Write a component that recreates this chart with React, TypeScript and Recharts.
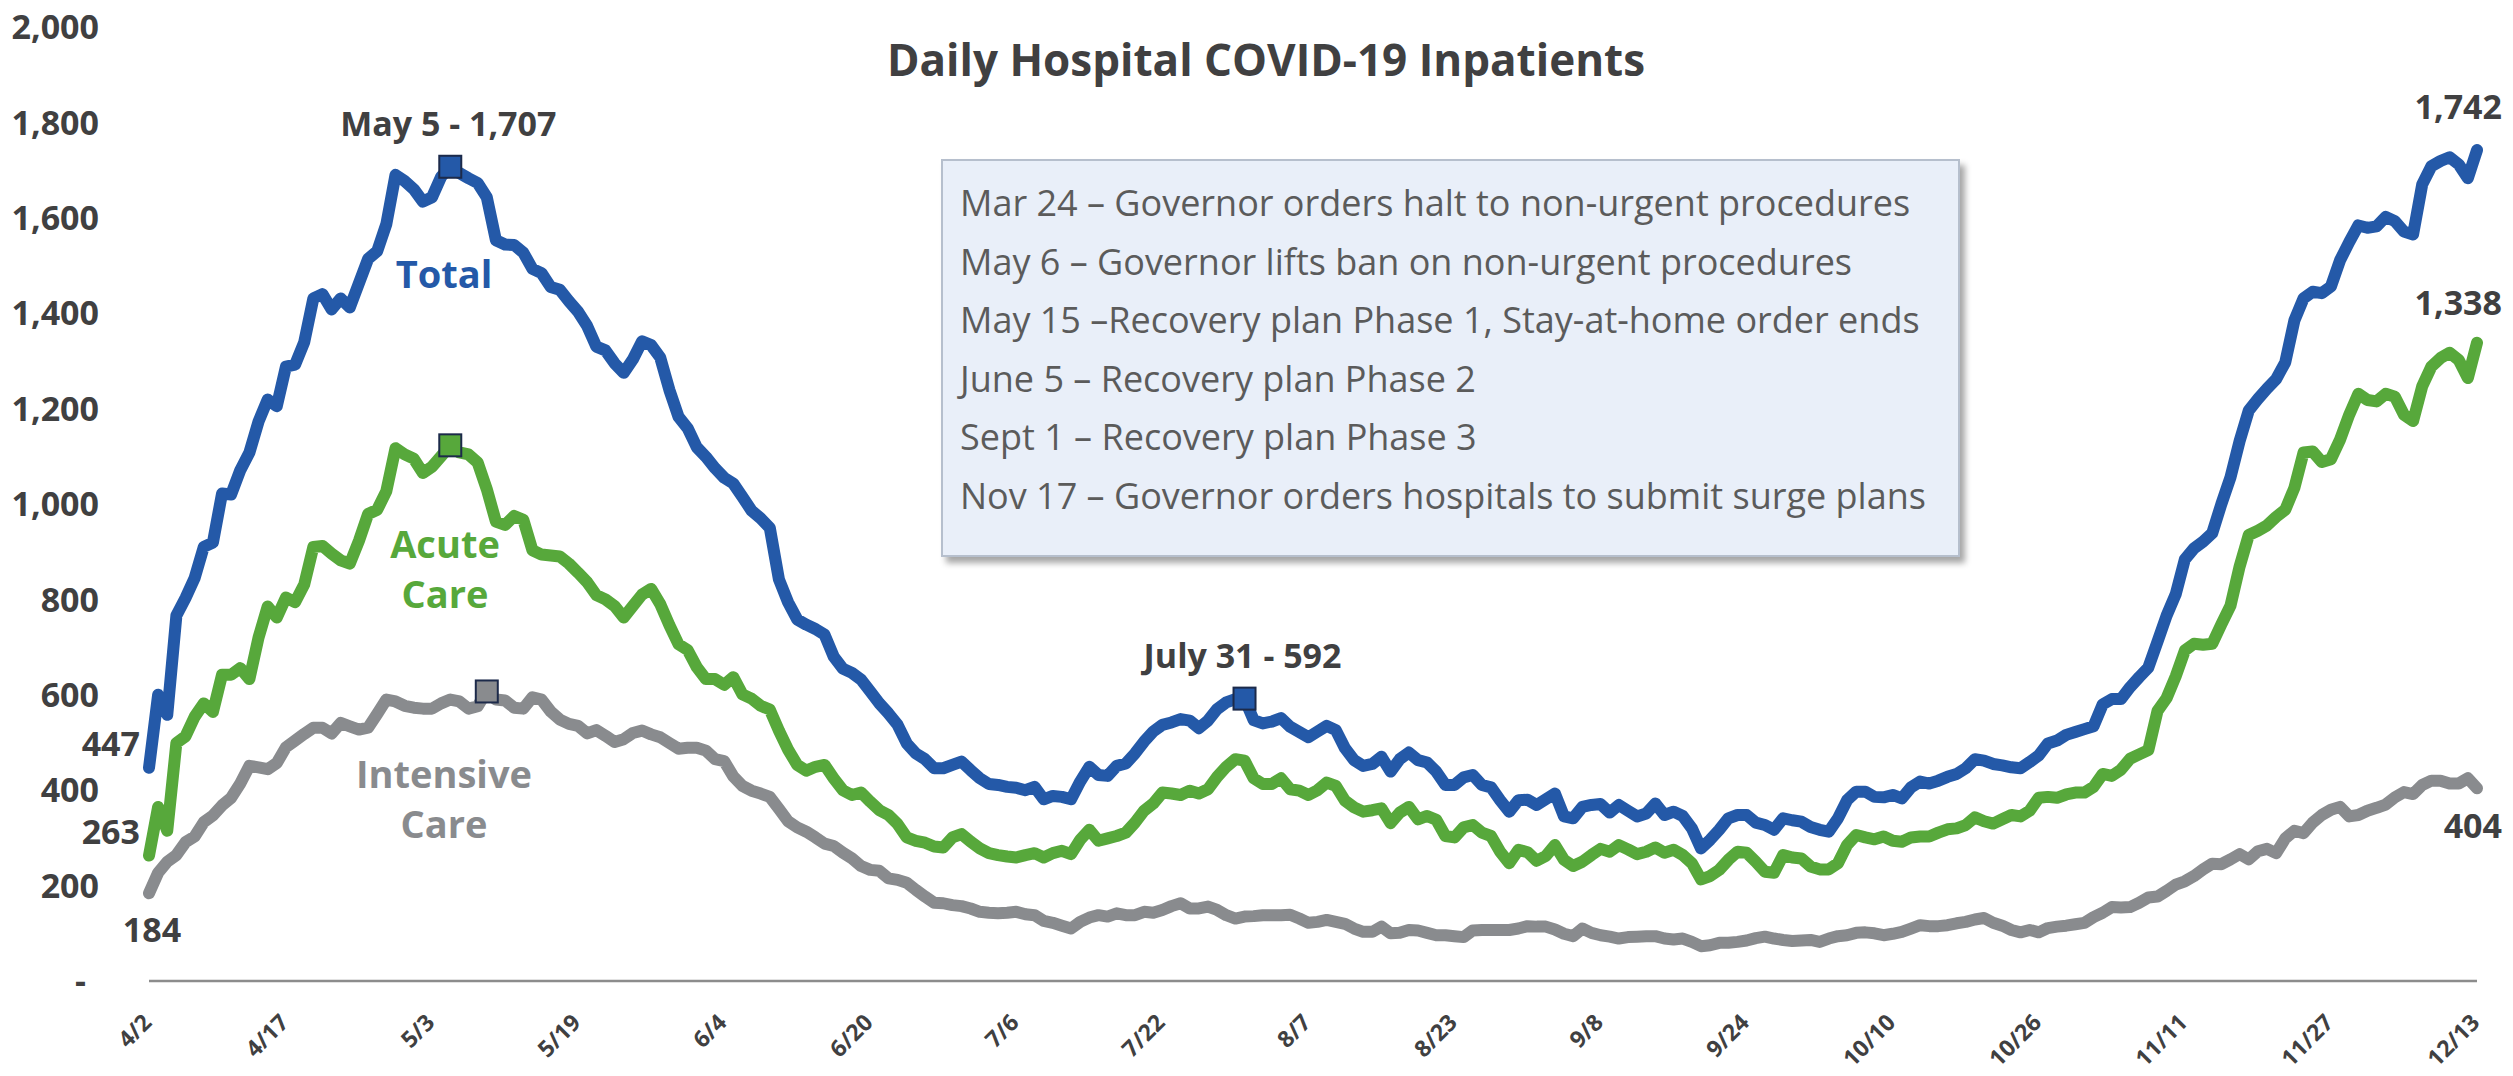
import React from 'react';
import { LineChart, Line, XAxis, YAxis } from 'recharts';

const W = 2513;
const H = 1076;

// ---------- data ----------
const startDate = { year: 2020, month: 4, day: 2 };
const dayCount = 256;

const tickDates = ['4/2', '4/17', '5/3', '5/19', '6/4', '6/20', '7/6', '7/22', '8/7', '8/23', '9/8', '9/24', '10/10', '10/26', '11/11', '11/27', '12/13'];
const yTicks = [0, 200, 400, 600, 800, 1000, 1200, 1400, 1600, 1800, 2000];

const total = [
  447, 600, 558, 766, 803, 845, 910, 919, 1022, 1020,
  1071, 1108, 1173, 1219, 1205, 1288, 1292, 1339, 1431, 1440,
  1408, 1431, 1412, 1463, 1514, 1530, 1587, 1690, 1677, 1660,
  1634, 1643, 1686, 1707, 1694, 1683, 1673, 1643, 1553, 1544,
  1543, 1527, 1493, 1484, 1455, 1449, 1425, 1403, 1373, 1330,
  1322, 1295, 1275, 1303, 1341, 1333, 1307, 1239, 1183, 1159,
  1119, 1099, 1075, 1055, 1043, 1015, 986, 970, 950, 842,
  794, 758, 747, 738, 726, 680, 655, 646, 632, 607,
  582, 561, 537, 498, 477, 465, 446, 446, 453, 460,
  442, 425, 413, 411, 407, 405, 400, 407, 381, 388,
  386, 381, 418, 449, 432, 430, 451, 456, 477, 502,
  523, 537, 542, 549, 546, 530, 546, 570, 584, 591,
  592, 547, 540, 544, 551, 533, 522, 511, 523, 535,
  526, 488, 463, 451, 455, 470, 439, 465, 479, 463,
  458, 439, 411, 411, 427, 432, 411, 406, 379, 355,
  379, 380, 369, 381, 393, 345, 341, 365, 369, 371,
  353, 369, 357, 345, 351, 372, 348, 355, 346, 320,
  278, 296, 317, 341, 348, 348, 332, 327, 317, 341,
  337, 334, 323, 317, 313, 341, 379, 397, 397, 386,
  385, 390, 383, 406, 418, 414, 420, 428, 434, 446,
  465, 462, 455, 452, 448, 446, 459, 473, 498, 504,
  516, 522, 528, 534, 580, 591, 591, 616, 637, 657,
  711, 766, 811, 884, 907, 921, 939, 1000, 1056, 1132,
  1196, 1220, 1242, 1262, 1297, 1385, 1431, 1445, 1442, 1456,
  1511, 1549, 1584, 1579, 1582, 1602, 1593, 1571, 1565, 1670,
  1708, 1719, 1727, 1712, 1683, 1742,
];

const acute = [
  263, 365, 315, 499, 513, 554, 582, 564, 642, 642,
  656, 633, 720, 785, 762, 804, 794, 831, 910, 912,
  896, 882, 875, 923, 979, 988, 1027, 1117, 1104, 1095,
  1065, 1078, 1100, 1123, 1108, 1104, 1087, 1031, 963, 956,
  975, 967, 903, 894, 892, 890, 875, 856, 836, 809,
  800, 786, 762, 786, 810, 822, 790, 746, 706, 694,
  658, 633, 633, 621, 637, 601, 592, 577, 569, 525,
  485, 453, 441, 449, 453, 425, 400, 390, 395, 376,
  358, 348, 329, 301, 294, 290, 282, 280, 301, 308,
  292, 278, 268, 264, 261, 259, 264, 268, 259, 268,
  273, 266, 296, 317, 294, 299, 304, 311, 332, 357,
  372, 395, 393, 390, 399, 393, 402, 428, 449, 465,
  462, 425, 413, 413, 425, 402, 399, 390, 400, 416,
  409, 378, 364, 355, 358, 362, 331, 353, 365, 339,
  346, 338, 304, 301, 322, 327, 311, 304, 271, 247,
  275, 270, 252, 262, 285, 254, 241, 250, 264, 277,
  271, 285, 276, 266, 271, 280, 269, 275, 264, 247,
  213, 220, 233, 254, 271, 269, 250, 229, 227, 264,
  259, 257, 240, 234, 234, 247, 285, 306, 301, 297,
  303, 294, 292, 301, 303, 303, 311, 318, 320, 327,
  343, 335, 330, 339, 348, 345, 357, 384, 386, 384,
  391, 395, 395, 407, 434, 430, 443, 466, 475, 484,
  566, 593, 639, 693, 707, 705, 707, 748, 787, 869,
  935, 944, 955, 973, 988, 1034, 1108, 1110, 1088, 1094,
  1135, 1187, 1231, 1218, 1215, 1231, 1225, 1187, 1174, 1247,
  1288, 1306, 1317, 1302, 1264, 1338,
];

const intensive = [
  184, 227, 250, 264, 291, 303, 333, 347, 368, 384,
  414, 451, 448, 444, 457, 490, 504, 518, 531, 531,
  519, 541, 534, 527, 531, 560, 590, 586, 577, 573,
  571, 571, 582, 590, 586, 571, 576, 607, 590, 588,
  573, 571, 595, 590, 565, 548, 539, 535, 519, 526,
  514, 501, 507, 520, 525, 517, 511, 499, 487, 489,
  489, 483, 465, 461, 429, 409, 399, 393, 386, 361,
  335, 322, 313, 301, 288, 283, 269, 257, 241, 233,
  231, 215, 212, 206, 191, 177, 164, 163, 159, 157,
  152, 145, 143, 142, 143, 145, 140, 138, 126, 122,
  116, 110, 124, 133, 138, 135, 142, 138, 138, 145,
  143, 149, 157, 163, 152, 152, 156, 149, 138, 131,
  135, 136, 138, 138, 138, 139, 131, 122, 124, 128,
  124, 120, 110, 103, 103, 114, 100, 101, 107, 106,
  101, 96, 96, 94, 92, 106, 107, 107, 107, 107,
  110, 115, 114, 114, 108, 99, 94, 110, 101, 96,
  93, 89, 92, 93, 94, 94, 89, 87, 89, 82,
  73, 75, 80, 80, 82, 85, 90, 93, 89, 86,
  84, 85, 86, 82, 89, 94, 96, 101, 102, 100,
  96, 99, 103, 110, 117, 115, 115, 117, 121, 124,
  129, 132, 122, 116, 107, 102, 107, 102, 111, 114,
  116, 119, 122, 134, 143, 155, 154, 155, 164, 175,
  177, 189, 202, 209, 220, 234, 246, 245, 255, 266,
  255, 272, 277, 268, 299, 315, 310, 332, 348, 359,
  365, 345, 348, 357, 363, 370, 385, 396, 392, 411,
  420, 420, 414, 414, 425, 404,
];

const monthNames = ['Jan', 'Feb', 'Mar', 'Apr', 'May', 'June', 'July', 'Aug', 'Sept', 'Oct', 'Nov', 'Dec'];

// highlighted points (square markers) and callouts
const markerDates: Record<string, string[]> = {
  total: ['5/5', '7/31'],
  acute: ['5/5'],
  intensive: ['5/9'],
};
const calloutDates = ['5/5', '7/31'];

const eventNotes = [
  'Mar 24 \u2013 Governor orders halt to non-urgent procedures',
  'May 6 \u2013 Governor lifts ban on non-urgent procedures',
  'May 15 \u2013Recovery plan Phase 1, Stay-at-home order ends',
  'June 5 \u2013 Recovery plan Phase 2',
  'Sept 1 \u2013 Recovery plan Phase 3',
  'Nov 17 \u2013 Governor orders hospitals to submit surge plans',
];

const title = 'Daily Hospital COVID-19 Inpatients';

// ---------- build rows ----------
function buildDates(): string[] {
  const out: string[] = [];
  let t = Date.UTC(startDate.year, startDate.month - 1, startDate.day);
  for (let i = 0; i < dayCount; i++) {
    const d = new Date(t);
    out.push(`${d.getUTCMonth() + 1}/${d.getUTCDate()}`);
    t += 86400000;
  }
  return out;
}
const dates = buildDates();
const rows = dates.map((date, i) => ({ date, total: total[i], acute: acute[i], intensive: intensive[i] }));

// ---------- styles ----------
const FONT = "'Open Sans', 'Noto Sans', sans-serif";
const DARK = '#404041';
const BLUE = '#2459a8';
const GREEN = '#57a83b';
const GRAY = '#898b8e';
const NAVY = '#1c2a4a';

const fmt = (v: number) => v.toLocaleString('en-US');

function YTick(props: any) {
  const { x, y, payload } = props;
  const v = payload.value as number;
  const zero = v === 0;
  return (
    <text x={zero ? x - 63 : x - 50} y={y} dy="0.357em" textAnchor="end" fontFamily={FONT} fontWeight={700} fontSize={34} fill={DARK}>
      {zero ? '-' : fmt(v)}
    </text>
  );
}

function XTick(props: any) {
  const { x, y, payload } = props;
  const ax = x + 4;
  const ay = y + 43;
  return (
    <text x={ax} y={ay} textAnchor="end" transform={`rotate(-45 ${ax} ${ay})`} fontFamily={FONT} fontWeight={700} fontSize={23} fill={DARK}>
      {payload.value}
    </text>
  );
}

function calloutLabel(date: string, v: number) {
  const [m, d] = date.split('/').map(Number);
  return `${monthNames[m - 1]} ${d} - ${fmt(v)}`;
}

type SKey = 'total' | 'acute' | 'intensive';
const fills: Record<SKey, string> = { total: BLUE, acute: GREEN, intensive: GRAY };

function makeDot(key: SKey) {
  return (props: any) => {
    const { cx, cy, index, payload } = props;
    const v = payload[key] as number;
    const date = payload.date as string;
    const parts: React.ReactNode[] = [];
    const last = index === dayCount - 1;
    const txt = { fontFamily: FONT, fontWeight: 700, fontSize: 34, fill: DARK } as const;
    if (markerDates[key].includes(date)) {
      parts.push(<rect key="m" x={cx - 11} y={cy - 11} width={22} height={22} fill={fills[key]} stroke={NAVY} strokeWidth={2} />);
    }
    if (key === 'total' && calloutDates.includes(date)) {
      parts.push(<text key="c" x={cx - 2} y={cy - 31} textAnchor="middle" {...txt}>{calloutLabel(date, v)}</text>);
    }
    if (index === 0) {
      if (key === 'intensive') {
        parts.push(<text key="f" x={cx + 3} y={cy + 49} textAnchor="middle" {...txt}>{fmt(v)}</text>);
      } else {
        parts.push(<text key="f" x={cx - 9} y={cy - 12} textAnchor="end" {...txt}>{fmt(v)}</text>);
      }
    }
    if (last) {
      const dy = key === 'intensive' ? 50 : key === 'acute' ? -28 : -31;
      parts.push(<text key="l" x={cx + 25} y={cy + dy} textAnchor="end" {...txt}>{fmt(v)}</text>);
    }
    return <g key={`${key}-${index}`}>{parts}</g>;
  };
}

function Overlay() {
  const lab = { fontFamily: FONT, fontWeight: 700, fontSize: 38, textAnchor: 'middle' as const };
  return (
    <svg width={W} height={H} style={{ position: 'absolute', left: 0, top: 0, pointerEvents: 'none' }}>
      <defs>
        <filter id="shadow" x="-5%" y="-5%" width="115%" height="120%">
          <feDropShadow dx="5" dy="6" stdDeviation="3" floodColor="#000" floodOpacity="0.35" />
        </filter>
      </defs>
      <text x={1266} y={76} textAnchor="middle" fontFamily={FONT} fontWeight={700} fontSize={44} fill={DARK}>{title}</text>
      <rect x={942} y={160} width={1017} height={396} fill="#e9eff9" stroke="#b6bfcd" strokeWidth={2} filter="url(#shadow)" />
      {eventNotes.map((t, i) => (
        <text key={i} x={960} y={216 + i * 58.6} fontFamily={FONT} fontSize={36} fill="#5b5b5b">{t}</text>
      ))}
      <text x={444} y={288} fill={BLUE} {...lab}>Total</text>
      <text x={445} y={558} fill={GREEN} {...lab}>Acute</text>
      <text x={445} y={608} fill={GREEN} {...lab}>Care</text>
      <text x={444} y={788} fill={GRAY} {...lab}>Intensive</text>
      <text x={444} y={838} fill={GRAY} {...lab}>Care</text>
    </svg>
  );
}

export default function App() {
  return (
    <div style={{ position: 'absolute', left: 0, top: 0, width: W, height: H, background: '#fff' }}>
      <LineChart width={W} height={H} data={rows} margin={{ top: 27, right: 36, bottom: 15, left: 29 }}>
        <XAxis
          dataKey="date"
          ticks={tickDates}
          interval={0}
          tick={<XTick />}
          tickLine={false}
          tickSize={0}
          tickMargin={0}
          axisLine={{ stroke: '#8c8c8c', strokeWidth: 2.5 }}
          height={80}
        />
        <YAxis
          domain={[0, 2000]}
          ticks={yTicks}
          tick={<YTick />}
          axisLine={false}
          tickLine={false}
          tickSize={0}
          tickMargin={0}
          width={120}
        />
        <Line type="linear" dataKey="intensive" stroke={GRAY} strokeWidth={12} strokeLinejoin="round" strokeLinecap="round" dot={makeDot('intensive')} activeDot={false} isAnimationActive={false} />
        <Line type="linear" dataKey="acute" stroke={GREEN} strokeWidth={12} strokeLinejoin="round" strokeLinecap="round" dot={makeDot('acute')} activeDot={false} isAnimationActive={false} />
        <Line type="linear" dataKey="total" stroke={BLUE} strokeWidth={12} strokeLinejoin="round" strokeLinecap="round" dot={makeDot('total')} activeDot={false} isAnimationActive={false} />
      </LineChart>
      <Overlay />
    </div>
  );
}
